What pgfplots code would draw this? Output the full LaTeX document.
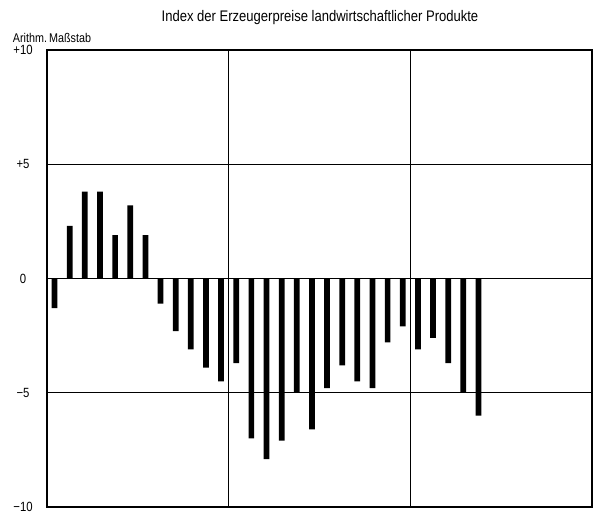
\documentclass[border=0pt]{standalone}
\usepackage{fontspec}
\setmainfont[FakeStretch=0.85]{Liberation Sans}
\usepackage{pgfplots}
\pgfplotsset{compat=1.18}
\begin{document}
\begin{tikzpicture}
\begin{axis}[
  at={(35.25pt,7.5pt)}, anchor=south west,
  scale only axis,
  width=408.75pt, height=342.75pt,
  xmin=0.5, xmax=36.5, ymin=-10, ymax=10,
  xtick={12.5,24.5}, xticklabels={},
  ytick={-10,-5,0,5,10},
  yticklabels={−10,−5,0,+5,+10},
  yticklabel style={font=\fontsize{10}{12}\selectfont, anchor=center, xshift=-18pt},
  major tick length=0pt,
  xmajorgrids, ymajorgrids,
  grid style={black, line width=0.7pt},
  axis line style={black, line width=0.9pt},
  /pgf/number format/assume math mode=true,
  clip=false,
]
\addplot[ybar, fill=black, draw=none, bar width=4.3pt] coordinates {
(1,-1.3) (2,2.3) (3,3.8) (4,3.8) (5,1.9) (6,3.2) (7,1.9) (8,-1.1)
(9,-2.3) (10,-3.1) (11,-3.9) (12,-4.5) (13,-3.7) (14,-7.0) (15,-7.9)
(16,-7.1) (17,-5.0) (18,-6.6) (19,-4.8) (20,-3.8) (21,-4.5) (22,-4.8)
(23,-2.8) (24,-2.1) (25,-3.1) (26,-2.6) (27,-3.7) (28,-5.0) (29,-6.0)
};
\end{axis}
\node[anchor=center, font=\fontsize{11.5}{13}\selectfont] at (240pt,374.25pt) {Index der Erzeugerpreise landwirtschaftlicher Produkte};
\node[anchor=west, font=\fontsize{9.5}{11}\selectfont, inner sep=0pt] at (9.5pt,359pt) {Arithm.\,Maßstab};
\path (0,0) rectangle (444.75pt,387.75pt);
\end{tikzpicture}
\end{document}
